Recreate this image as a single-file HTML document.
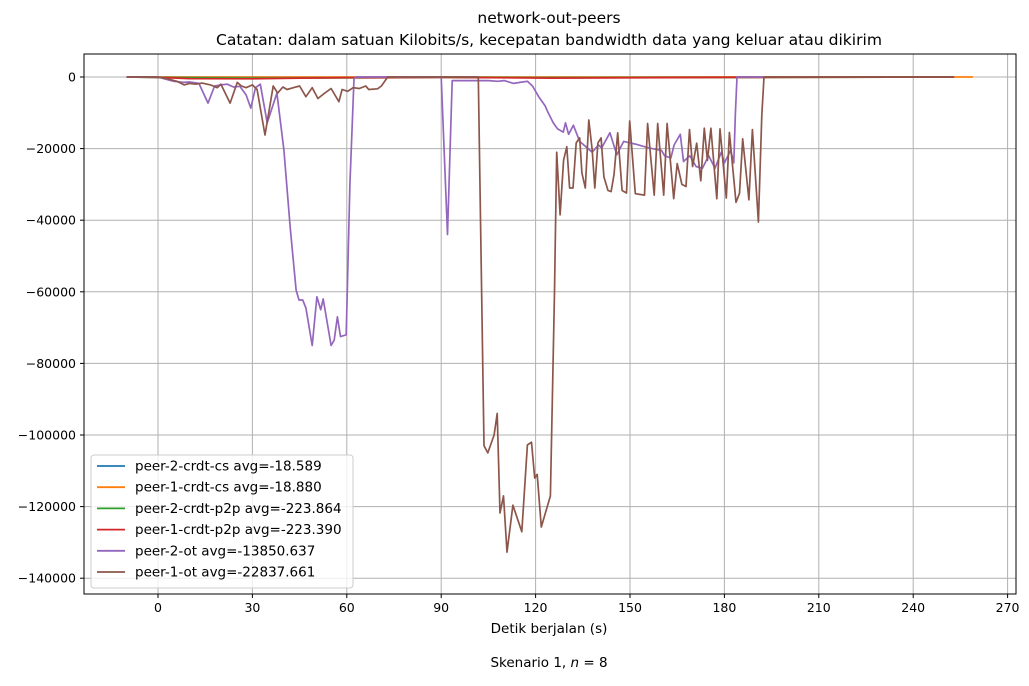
<!DOCTYPE html>
<html><head><meta charset="utf-8"><style>
body{margin:0;background:#fff;font-family:"Liberation Sans","DejaVu Sans",sans-serif}
svg text{font-family:"DejaVu Sans","Liberation Sans",sans-serif;fill:#000}
</style></head><body>
<svg id="chart" width="1029" height="681" xmlns="http://www.w3.org/2000/svg"></svg>
<script>
const xTicks=[0,30,60,90,120,150,180,210,240,270];
const yTicks=[0,-20000,-40000,-60000,-80000,-100000,-120000,-140000];
const seriesNames=["peer-2-crdt-cs avg=-18.589","peer-1-crdt-cs avg=-18.880","peer-2-crdt-p2p avg=-223.864","peer-1-crdt-p2p avg=-223.390","peer-2-ot avg=-13850.637","peer-1-ot avg=-22837.661"];
const seriesColors=["#1f77b4","#ff7f0e","#2ca02c","#d62728","#9467bd","#8c564b"];
const blueData=[[-10,0],[0,-20],[60,-30],[120,-20],[183,-10],[253,0]];
const orangeData=[[-10,0],[0,-20],[60,-30],[120,-20],[183,-10],[259,0]];
const greenData=[[-10,0],[0,-150],[30,-300],[60,-250],[90,-100],[120,-200],[183,-150],[253,0]];
const redData=[[-10,0],[0,-100],[10,-450],[30,-500],[45,-300],[60,-200],[90,-100],[125,-300],[183,-100],[253,0]];
const purpleData=[[-10,0],[0,0],[2,-500],[5,-1200],[8,-1500],[10,-1400],[13,-1800],[15.9,-7300],[18,-2500],[20,-2200],[22,-2000],[24,-2800],[26,-2600],[28,-5000],[29.5,-8700],[31,-3000],[32.5,-2000],[34.7,-12800],[37.8,-4500],[40,-20400],[42,-42000],[43.9,-59500],[44.8,-62300],[46,-62300],[47,-64500],[49,-75000],[50.5,-61400],[51.7,-65000],[52.5,-62000],[55,-75000],[56,-73500],[57,-67000],[58,-72500],[59.8,-72000],[61,-30000],[62.3,-500],[63,0],[90,0],[92,-44000],[93.5,-1000],[105,-1000],[108,-1200],[110,-1000],[113,-1800],[115,-1500],[117.4,-1200],[119,-2500],[121,-5500],[123,-8000],[124,-10000],[125.6,-12800],[127,-14500],[128.8,-15400],[129.5,-12800],[130.5,-16000],[132,-13500],[134,-18000],[136,-19500],[138,-21000],[140,-19000],[141,-19800],[143.6,-15600],[145.8,-21700],[148,-18000],[152,-18800],[156,-19800],[160,-20500],[161,-22000],[163,-22600],[164,-19000],[166,-16000],[167,-23600],[169,-22000],[171,-25000],[173,-25500],[175,-22000],[177,-25500],[179,-21000],[180,-24000],[182,-20500],[183,-24000],[183.5,-10000],[184,0],[193,0]];
const brownData=[[-10,0],[0,0],[3,-500],[6,-1200],[8.3,-2200],[10,-1800],[12,-2000],[14,-1700],[16.7,-2200],[18.8,-3000],[20,-2000],[22.9,-7300],[25.2,-1500],[26.5,-2500],[28,-3000],[30,-2200],[31.5,-3500],[34,-16200],[36.6,-2500],[38,-4500],[39.7,-2800],[41,-3500],[43,-3000],[45,-2500],[47,-5500],[49,-3000],[50.8,-6000],[53,-4500],[55,-3200],[57.5,-6900],[58.5,-3500],[60.3,-4000],[62,-3000],[64,-3200],[66,-2500],[67,-3500],[69.8,-3300],[71,-2500],[73,0],[101.8,0],[103.6,-103000],[104.8,-105000],[106.8,-100000],[107.8,-94000],[108.7,-121800],[109.8,-117000],[110.9,-132700],[112.8,-119600],[115.6,-127000],[117.4,-102800],[118.7,-102000],[119.7,-112000],[120.5,-111000],[121.8,-125700],[124.7,-117000],[126,-60000],[126.7,-21000],[127.8,-38500],[128.9,-23200],[129.9,-19500],[130.8,-31000],[131.9,-31000],[132.9,-18400],[134,-17000],[134.7,-26800],[135.8,-31000],[136.9,-12000],[138,-20400],[138.8,-31000],[139.8,-18400],[140.8,-17000],[141.7,-27900],[143,-31700],[144,-32000],[144.9,-27300],[146.1,-15600],[147.5,-31700],[148.9,-32400],[149.9,-12300],[151.7,-32600],[154.6,-33000],[155.6,-13000],[157.7,-33000],[158.8,-13000],[160.7,-33000],[161.8,-13000],[163.9,-34000],[165,-24200],[166.5,-30000],[167.8,-30600],[168.9,-14700],[169.9,-25000],[171.2,-18500],[172.5,-29000],[173.6,-14300],[174.6,-23300],[175.7,-14300],[177.6,-34000],[178.6,-14500],[180.6,-33800],[181.6,-15500],[183.7,-35000],[184.8,-32500],[185.8,-17300],[187.8,-34300],[188.9,-14700],[190.8,-40500],[191.9,-10700],[192.6,0],[253,0]];
const allSeries=[blueData,orangeData,greenData,redData,purpleData,brownData];

const NS="http://www.w3.org/2000/svg";
const svg=document.getElementById('chart');
const L=84,R=1016,T=54,B=594;
function xs(v){return 158+v*(94.4/30);}
function ys(v){return 77+(-v)*(71.6/20000);}
function mk(tag,attrs,parent){const e=document.createElementNS(NS,tag);for(const k in attrs)e.setAttribute(k,attrs[k]);(parent||svg).appendChild(e);return e;}

const grid=mk('g',{});


xTicks.forEach(t=>{
  const x=xs(t);
  const gl=mk('line',{x1:x,x2:x,y1:T,y2:B,stroke:'#b0b0b0','stroke-width':1},grid);
  
  
  mk('line',{x1:x,x2:x,y1:B,y2:B+4,stroke:'#000'},grid);
  const tx=mk('text',{x:x,y:B+18,'text-anchor':'middle','font-size':12.5},grid);
  tx.textContent=t;
  
  
});
yTicks.forEach(t=>{
  const y=ys(t);
  const gl=mk('line',{x1:L,x2:R,y1:y,y2:y,stroke:'#b0b0b0','stroke-width':1},grid);
  
  
  mk('line',{x1:L-4,x2:L,y1:y,y2:y,stroke:'#000'},grid);
  const tx=mk('text',{x:L-8,y:y+4.5,'text-anchor':'end','font-size':12.5},grid);
  tx.textContent=t===0?'0':'\u2212'+Math.abs(t);
  
  
});

allSeries.forEach((d,i)=>{
  const p=mk('polyline',{points:d.map(q=>xs(q[0]).toFixed(1)+','+ys(q[1]).toFixed(1)).join(' '),fill:'none',stroke:seriesColors[i],'stroke-width':1.7,'stroke-linejoin':'round'});
  
  
});

const frame=mk('rect',{x:L,y:T,width:R-L,height:B-T,fill:'none',stroke:'#000','stroke-width':1});



const t1=mk('text',{x:549,y:23,'text-anchor':'middle','font-size':15.5});
t1.textContent='network-out-peers';


const t2=mk('text',{x:549,y:45,'text-anchor':'middle','font-size':15.5,'textLength':666,'lengthAdjust':'spacingAndGlyphs'});
t2.textContent='Catatan: dalam satuan Kilobits/s, kecepatan bandwidth data yang keluar atau dikirim';


const xl=mk('text',{x:549,y:633,'text-anchor':'middle','font-size':13.5});
xl.textContent='Detik berjalan (s)';


const sc=mk('text',{x:549,y:667,'text-anchor':'middle','font-size':13.5});
sc.innerHTML='Skenario 1, <tspan font-style="italic">n</tspan> = 8';



const lg=mk('g',{});


mk('rect',{x:91,y:455,width:262,height:133,rx:3,fill:'#fff','fill-opacity':0.8,stroke:'#ccc'},lg);
seriesNames.forEach((n,i)=>{
  const y=466+i*21.2;
  const ent=mk('g',{},lg);
  
  
  mk('line',{x1:97,x2:125,y1:y,y2:y,stroke:seriesColors[i],'stroke-width':1.8},ent);
  const tx=mk('text',{x:135,y:y+4.5,'font-size':13.5},ent);
  tx.textContent=n;
});
</script>
</body></html>
